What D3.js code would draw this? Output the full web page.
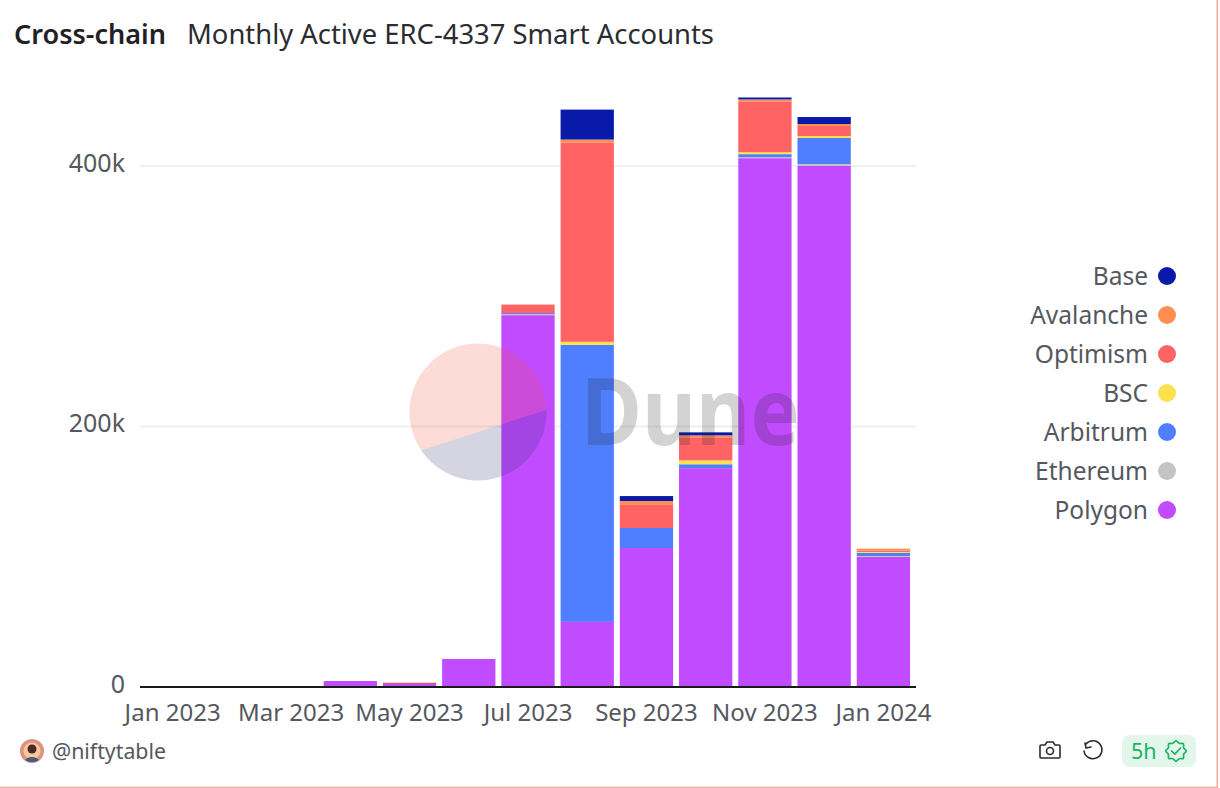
<!DOCTYPE html>
<html>
<head>
<meta charset="utf-8">
<script src="https://cdn.jsdelivr.net/npm/d3@7"></script>
<style>
  html, body { margin: 0; padding: 0; background: #fff; overflow: hidden; }
  text { font-family: "Noto Sans", "Open Sans", sans-serif; }
</style>
</head>
<body>
<div id="chart"></div>
<script>
// monthly values (thousands of accounts)
var months = ["Jan 2023","Feb 2023","Mar 2023","Apr 2023","May 2023","Jun 2023","Jul 2023","Aug 2023","Sep 2023","Oct 2023","Nov 2023","Dec 2023","Jan 2024"];
var tickMonths = ["Jan 2023","Mar 2023","May 2023","Jul 2023","Sep 2023","Nov 2023","Jan 2024"];
var yTicks = [0, 200, 400];

var polygon   = [0.1, 0.1, 0.2, 4.6, 3.1, 21.5, 285.5, 50, 106.7, 168, 406, 400, 99.8];
var ethereum  = [0, 0, 0, 0, 0, 0, 0.8, 0, 0, 0, 0.8, 1.5, 0.8];
var arbitrum  = [0, 0, 0, 0, 0, 0, 0.8, 212.7, 15.4, 3, 2.3, 20, 2.3];
var bsc       = [0, 0, 0, 0, 0.7, 0, 0, 2.3, 0, 3, 1.5, 1.5, 0.8];
var optimism  = [0, 0, 0, 0, 0, 0, 6.5, 153, 17.7, 17.7, 39, 7.7, 1];
var avalanche = [0, 0, 0, 0, 0, 0, 0, 2.3, 3, 1.5, 1.5, 1.5, 1.5];
var base      = [0, 0, 0, 0, 0, 0, 0, 23, 3.8, 2.3, 1.5, 5.4, 0];

// bottom to top, same order as the legend reversed
var seriesNames = ["Polygon","Ethereum","Arbitrum","BSC","Optimism","Avalanche","Base"];
var seriesValues = [polygon, ethereum, arbitrum, bsc, optimism, avalanche, base];
var seriesColors = ["#c14bff","#c4c4c4","#4f7fff","#ffe04d","#ff6363","#ff8f50","#0a1aa8"];

var width = 1220, height = 788;
var svg = d3.select("#chart").append("svg")
  .attr("width", width)
  .attr("height", height)
  .style("display", "block");

// page frame, salmon edge on the right and bottom
svg.append("rect").attr("width", width).attr("height", height).attr("fill", "#fff");
svg.append("rect").attr("x", 1216.5).attr("y", 0).attr("width", 1.5).attr("height", height).attr("fill", "#f7a896");
svg.append("rect").attr("x", 0).attr("y", 786.7).attr("width", 1218).attr("height", 1.3).attr("fill", "#f7a896");

// title
svg.append("text").attr("x", 14).attr("y", 44).attr("font-size", 26.5).attr("font-weight", 600)
  .attr("fill", "#1f2126").attr("textLength", 152).attr("lengthAdjust", "spacingAndGlyphs").text("Cross-chain");
svg.append("text").attr("x", 187).attr("y", 44).attr("font-size", 26.5)
  .attr("fill", "#2a2c31").attr("textLength", 527).attr("lengthAdjust", "spacingAndGlyphs").text("Monthly Active ERC-4337 Smart Accounts");

// scales
var x = d3.scaleBand().domain(months).range([143, 913]).paddingInner(0.1).paddingOuter(0.05);
var y = d3.scaleLinear().domain([0, 400]).range([687, 166]);

// gridlines
svg.append("g").selectAll("line")
  .data(yTicks.slice(1))
  .enter().append("line")
  .attr("x1", 140).attr("x2", 916)
  .attr("y1", function (d) { return y(d); })
  .attr("y2", function (d) { return y(d); })
  .attr("stroke", "#efefef").attr("stroke-width", 2);

// stacked bars
var rows = months.map(function (m, i) {
  var row = { month: m };
  seriesNames.forEach(function (s, j) { row[s] = seriesValues[j][i]; });
  return row;
});
var stacked = d3.stack().keys(seriesNames)(rows);

svg.append("g").selectAll("g")
  .data(stacked)
  .enter().append("g")
  .attr("fill", function (d, i) { return seriesColors[i]; })
  .selectAll("rect")
  .data(function (d) { return d; })
  .enter().append("rect")
  .attr("x", function (d) { return x(d.data.month); })
  .attr("width", x.bandwidth())
  .attr("y", function (d) { return y(d[1]); })
  .attr("height", function (d) { return y(d[0]) - y(d[1]); });

// x axis
var xAxis = d3.axisBottom(x).tickValues(tickMonths).tickSize(0).tickPadding(17);
var gx = svg.append("g").attr("transform", "translate(0,687)").call(xAxis);
gx.select(".domain").remove();
gx.selectAll("text").attr("font-size", 24).attr("fill", "#55585e")
  .style("font-family", '"Noto Sans", sans-serif').attr("dy", "0.72em");
svg.append("line").attr("x1", 140).attr("x2", 916).attr("y1", 687).attr("y2", 687)
  .attr("stroke", "#1a1a1a").attr("stroke-width", 2);

// y axis
var yAxis = d3.axisLeft(y).tickValues(yTicks).tickSize(0).tickPadding(0)
  .tickFormat(function (d) { return d === 0 ? "0" : d + "k"; });
var gy = svg.append("g").attr("transform", "translate(125,-3)").call(yAxis);
gy.select(".domain").remove();
gy.selectAll("text").attr("font-size", 25).attr("fill", "#55585e")
  .style("font-family", '"Noto Sans", sans-serif');

// legend, top entry first
var legendNames = seriesNames.slice().reverse();
var legendColors = seriesColors.slice().reverse();
var legendY = d3.scalePoint().domain(legendNames).range([276, 510]);
var legend = svg.append("g").selectAll("g")
  .data(legendNames)
  .enter().append("g")
  .attr("transform", function (d) { return "translate(0," + legendY(d) + ")"; });
legend.append("text").attr("x", 1148).attr("y", 0).attr("dy", "0.35em")
  .attr("text-anchor", "end").attr("font-size", 24.5).attr("fill", "#55585e")
  .text(function (d) { return d; });
legend.append("circle").attr("cx", 1167).attr("cy", 0).attr("r", 9)
  .attr("fill", function (d, i) { return legendColors[i]; });

// Dune watermark, sits on top of the bars. The pie split is a chord, not through the centre
var mark = svg.append("g").attr("transform", "translate(478,412)");
var markTop = d3.path();
markTop.arc(0, 0, 68.5, 2.55, Math.PI * 2 - 0.03);
markTop.closePath();
var markBottom = d3.path();
markBottom.arc(0, 0, 68.5, -0.03, 2.55);
markBottom.closePath();
mark.append("path").attr("d", markTop.toString()).attr("fill", "#f4523a").attr("opacity", 0.2);
mark.append("path").attr("d", markBottom.toString()).attr("fill", "#2c2c6e").attr("opacity", 0.2);
svg.append("text").attr("x", 581).attr("y", 445).attr("font-size", 94).attr("font-weight", 700)
  .attr("fill", "#1c1c1c").attr("opacity", 0.19)
  .attr("textLength", 219).attr("lengthAdjust", "spacingAndGlyphs").text("Dune");

// footer left: avatar and handle
var avatar = svg.append("g").attr("transform", "translate(32,751)");
avatar.append("circle").attr("r", 12).attr("fill", "#e0917f");
avatar.append("circle").attr("r", 8.5).attr("fill", "#f3c9a0");
avatar.append("path").attr("d", "M-7,9 A8,6 0 0 1 7,9 A12,12 0 0 1 -7,9 Z").attr("fill", "#4c5a80");
avatar.append("circle").attr("cy", -2).attr("r", 4.5).attr("fill", "#4a2a22");
svg.append("text").attr("x", 52).attr("y", 759).attr("font-size", 21.5).attr("fill", "#55585e")
  .attr("textLength", 114).attr("lengthAdjust", "spacingAndGlyphs").text("@niftytable");

// footer right: camera, refresh, freshness badge
var icons = svg.append("g").attr("fill", "none").attr("stroke", "#2a2c31").attr("stroke-width", 1.6)
  .attr("stroke-linejoin", "round").attr("stroke-linecap", "round");
icons.append("path").attr("d", "M1041,745 h4 l2,-3 h6 l2,3 h4 a1,1 0 0 1 1,1 v11 a1,1 0 0 1 -1,1 h-18 a1,1 0 0 1 -1,-1 v-11 a1,1 0 0 1 1,-1 Z");
icons.append("circle").attr("cx", 1050).attr("cy", 751).attr("r", 3.5);
icons.append("path").attr("d", "M1086,744 A9,9 0 1 1 1084,751 M1085,743 l1,5 l5,-1");

svg.append("rect").attr("x", 1122).attr("y", 735).attr("width", 74).attr("height", 32).attr("rx", 8).attr("fill", "#e3f6ec");
svg.append("text").attr("x", 1131).attr("y", 759).attr("font-size", 21.5).attr("fill", "#1fb264").text("5h");
var badge = svg.append("g").attr("transform", "translate(1176,751)").attr("fill", "none")
  .attr("stroke", "#1fb264").attr("stroke-width", 1.7).attr("stroke-linejoin", "round").attr("stroke-linecap", "round");
var starPts = d3.range(16).map(function (i) {
  var r = i % 2 ? 8.3 : 10.3;
  return [i * Math.PI / 8, r];
});
badge.append("path").attr("d", d3.lineRadial().curve(d3.curveCardinalClosed)(starPts));
badge.append("path").attr("d", "M-4.5,0 L-1.2,3.2 L4.5,-3");
</script>
</body>
</html>
